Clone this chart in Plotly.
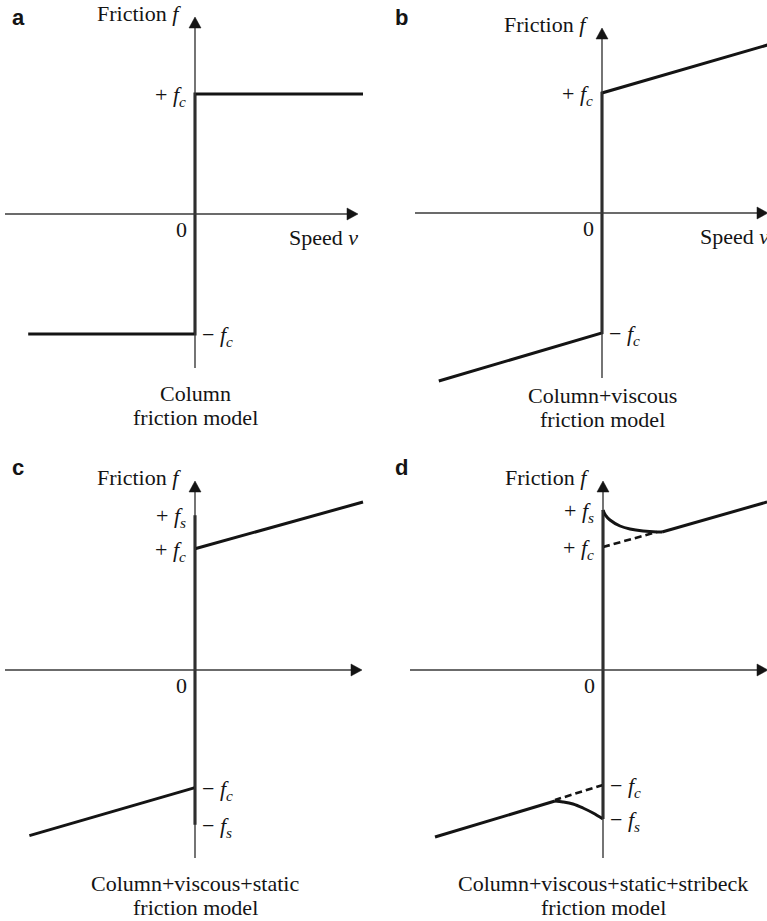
import plotly.graph_objects as go

W, H = 767, 921
S = 120.0  # pixels per model unit, same on both axes

# ---------------- friction model data (v = speed, f = friction, f_c = 1) ----------------
# a) Coulomb
a_v = [-1.39, 0.0, 0.0, 1.40]
a_f = [-1.00, -1.00, 1.00, 1.00]

# b) Coulomb + viscous
b_v = [-1.36, 0.0, 0.0, 1.38]
b_f = [-1.40, -1.00, 1.00, 1.40]

# c) Coulomb + viscous + static
c_neg_v = [-1.38, 0.0]
c_neg_f = [-1.38, -0.98]
c_pos_v = [0.0, 1.40]
c_pos_f = [1.01, 1.40]
c_static_f = [-1.29, 1.29]

# d) Coulomb + viscous + static + Stribeck
d_pos_curve_v = [0.0, 0.02, 0.058, 0.142, 0.225, 0.333, 0.45, 0.492]
d_pos_curve_f = [1.333, 1.29, 1.25, 1.20, 1.175, 1.158, 1.15, 1.15]
d_pos_line_v = [0.492, 1.367]
d_pos_line_f = [1.15, 1.40]
d_neg_curve_v = [0.0, -0.083, -0.167, -0.25, -0.333, -0.40]
d_neg_curve_f = [-1.242, -1.192, -1.15, -1.117, -1.10, -1.092]
d_neg_line_v = [-0.40, -1.40]
d_neg_line_f = [-1.092, -1.392]
d_pos_dash_v = [0.0, 0.45]
d_pos_dash_f = [1.025, 1.15]
d_neg_dash_v = [0.0, -0.40]
d_neg_dash_f = [-0.958, -1.083]
d_static_f = [-1.242, 1.333]

captions = {
    "a": ["Column", "friction model"],
    "b": ["Column+viscous", "friction model"],
    "c": ["Column+viscous+static", "friction model"],
    "d": ["Column+viscous+static+stribeck", "friction model"],
}

# ---------------- panel geometry (pixels) ----------------
# box = (left, top, right, bottom), origin = pixel of (v=0, f=0),
# cap = pixel row of the first caption line
panels = {
    "a": dict(n=1, box=(0, 0, 383, 450), origin=(195, 214), xext=(5, 358), yext=(368, 17), cap=393),
    "b": dict(n=2, box=(383, 0, 767, 450), origin=(602, 213), xext=(415, 768), yext=(378, 28), cap=395),
    "c": dict(n=3, box=(0, 450, 383, 921), origin=(195, 670), xext=(5, 362), yext=(858, 481), cap=883),
    "d": dict(n=4, box=(383, 450, 767, 921), origin=(603, 670), xext=(410, 768), yext=(858, 481), cap=883),
}

SERIF = "Liberation Serif, Times New Roman, serif"
INK = "#141414"
AXIS_INK = "#3a3a3a"
FS = 22

fig = go.Figure()
layout = dict(
    width=W, height=H, autosize=False,
    margin=dict(l=0, r=0, t=0, b=0),
    paper_bgcolor="white", plot_bgcolor="white",
    showlegend=False,
)
shapes = []
annotations = []

for key, p in panels.items():
    n = p["n"]
    l, t, r, b = p["box"]
    ox, oy = p["origin"]
    xa = "xaxis" if n == 1 else f"xaxis{n}"
    ya = "yaxis" if n == 1 else f"yaxis{n}"
    layout[xa] = dict(domain=[l / W, r / W], range=[(l - ox) / S, (r - ox) / S],
                      visible=False, fixedrange=True, anchor="y" if n == 1 else f"y{n}")
    layout[ya] = dict(domain=[1 - b / H, 1 - t / H], range=[(oy - b) / S, (oy - t) / S],
                      visible=False, fixedrange=True, anchor="x" if n == 1 else f"x{n}")
    xr = "x" if n == 1 else f"x{n}"
    yr = "y" if n == 1 else f"y{n}"
    p["xr"], p["yr"] = xr, yr

    # axes with filled arrowheads
    x_left = (p["xext"][0] - ox) / S
    x_tip = (p["xext"][1] - ox) / S
    y_bot = (oy - p["yext"][0]) / S
    y_tip = (oy - p["yext"][1]) / S
    AL, AW = 11 / S, 6 / S
    shapes.append(dict(type="line", xref=xr, yref=yr, x0=x_left, y0=0, x1=x_tip - AL, y1=0,
                       line=dict(color=AXIS_INK, width=1.4)))
    shapes.append(dict(type="line", xref=xr, yref=yr, x0=0, y0=y_bot, x1=0, y1=y_tip - AL,
                       line=dict(color=AXIS_INK, width=1.4)))
    shapes.append(dict(type="path", xref=xr, yref=yr,
                       path=f"M {x_tip - AL},{AW} L {x_tip},0 L {x_tip - AL},{-AW} Z",
                       fillcolor=INK, line=dict(color=INK, width=0.5)))
    shapes.append(dict(type="path", xref=xr, yref=yr,
                       path=f"M {-AW},{y_tip - AL} L 0,{y_tip} L {AW},{y_tip - AL} Z",
                       fillcolor=INK, line=dict(color=INK, width=0.5)))

    # axis titles
    annotations.append(dict(xref=xr, yref=yr, x=0, y=y_tip, xanchor="right", yanchor="middle",
                            xshift=-12, yshift=4, showarrow=False,
                            text="Friction <i>f</i>", font=dict(family=SERIF, size=FS, color=INK)))
    annotations.append(dict(xref=xr, yref=yr, x=0, y=0, xanchor="right", yanchor="top",
                            xshift=-6, yshift=-1, showarrow=False,
                            text="0", font=dict(family=SERIF, size=FS, color=INK)))
    # panel letter
    annotations.append(dict(xref="paper", yref="paper", x=(l + 18) / W, y=1 - (t + 17) / H,
                            xanchor="center", yanchor="middle", showarrow=False,
                            text=f"<b>{key}</b>",
                            font=dict(family="Liberation Sans, Arial, sans-serif", size=22, color=INK)))
    # caption (two lines)
    for i, line in enumerate(captions[key]):
        yc = (oy - (p["cap"] + 24 * i)) / S
        annotations.append(dict(xref=xr, yref=yr, x=0, y=yc, xanchor="center", yanchor="middle",
                                showarrow=False, text=line,
                                font=dict(family=SERIF, size=FS, color=INK)))

# speed labels (only in the top row)
for key, left_px in (("a", 287), ("b", 698)):
    p = panels[key]
    annotations.append(dict(xref=p["xr"], yref=p["yr"], x=(left_px - p["origin"][0]) / S, y=0,
                            xanchor="left", yanchor="top", yshift=-9,
                            showarrow=False, text="Speed <i>v</i>",
                            font=dict(family=SERIF, size=FS, color=INK)))


def level_label(key, y, text, side):
    p = panels[key]
    if side == "left":
        annotations.append(dict(xref=p["xr"], yref=p["yr"], x=0, y=y, xanchor="right",
                                yanchor="middle", xshift=-7, yshift=-2, showarrow=False,
                                text=text, font=dict(family=SERIF, size=FS, color=INK)))
    else:
        annotations.append(dict(xref=p["xr"], yref=p["yr"], x=0, y=y, xanchor="left",
                                yanchor="middle", xshift=5, yshift=-2, showarrow=False,
                                text=text, font=dict(family=SERIF, size=FS, color=INK)))


FC_POS = "+ <i>f</i><sub><i>c</i></sub>"
FC_NEG = "\u2212 <i>f</i><sub><i>c</i></sub>"
FS_POS = "+ <i>f</i><sub><i>s</i></sub>"
FS_NEG = "\u2212 <i>f</i><sub><i>s</i></sub>"

level_label("a", a_f[2], FC_POS, "left")
level_label("a", a_f[1], FC_NEG, "right")
level_label("b", b_f[2], FC_POS, "left")
level_label("b", b_f[1], FC_NEG, "right")
level_label("c", c_static_f[1], FS_POS, "left")
level_label("c", c_pos_f[0], FC_POS, "left")
level_label("c", c_neg_f[1], FC_NEG, "right")
level_label("c", c_static_f[0], FS_NEG, "right")
level_label("d", d_static_f[1], FS_POS, "left")
level_label("d", d_pos_dash_f[0], FC_POS, "left")
level_label("d", d_neg_dash_f[0], FC_NEG, "right")
level_label("d", d_static_f[0], FS_NEG, "right")


def curve(key, v, f, dash="solid", shape="linear", width=3.0):
    p = panels[key]
    fig.add_trace(go.Scatter(x=v, y=f, xaxis=p["xr"], yaxis=p["yr"], mode="lines",
                             line=dict(color=INK, width=width, dash=dash, shape=shape),
                             hoverinfo="skip"))


curve("a", a_v, a_f)
curve("b", b_v, b_f)
curve("c", [0.0, 0.0], c_static_f)
curve("c", c_neg_v, c_neg_f)
curve("c", c_pos_v, c_pos_f)
curve("d", [0.0, 0.0], d_static_f)
curve("d", d_pos_dash_v, d_pos_dash_f, dash="7px,4px", width=2.6)
curve("d", d_neg_dash_v, d_neg_dash_f, dash="7px,4px", width=2.6)
curve("d", d_pos_curve_v, d_pos_curve_f, shape="spline")
curve("d", d_pos_line_v, d_pos_line_f)
curve("d", d_neg_curve_v, d_neg_curve_f, shape="spline")
curve("d", d_neg_line_v, d_neg_line_f)

layout["shapes"] = shapes
layout["annotations"] = annotations
fig.update_layout(**layout)
fig.write_html("out.html", config={"displayModeBar": False})
